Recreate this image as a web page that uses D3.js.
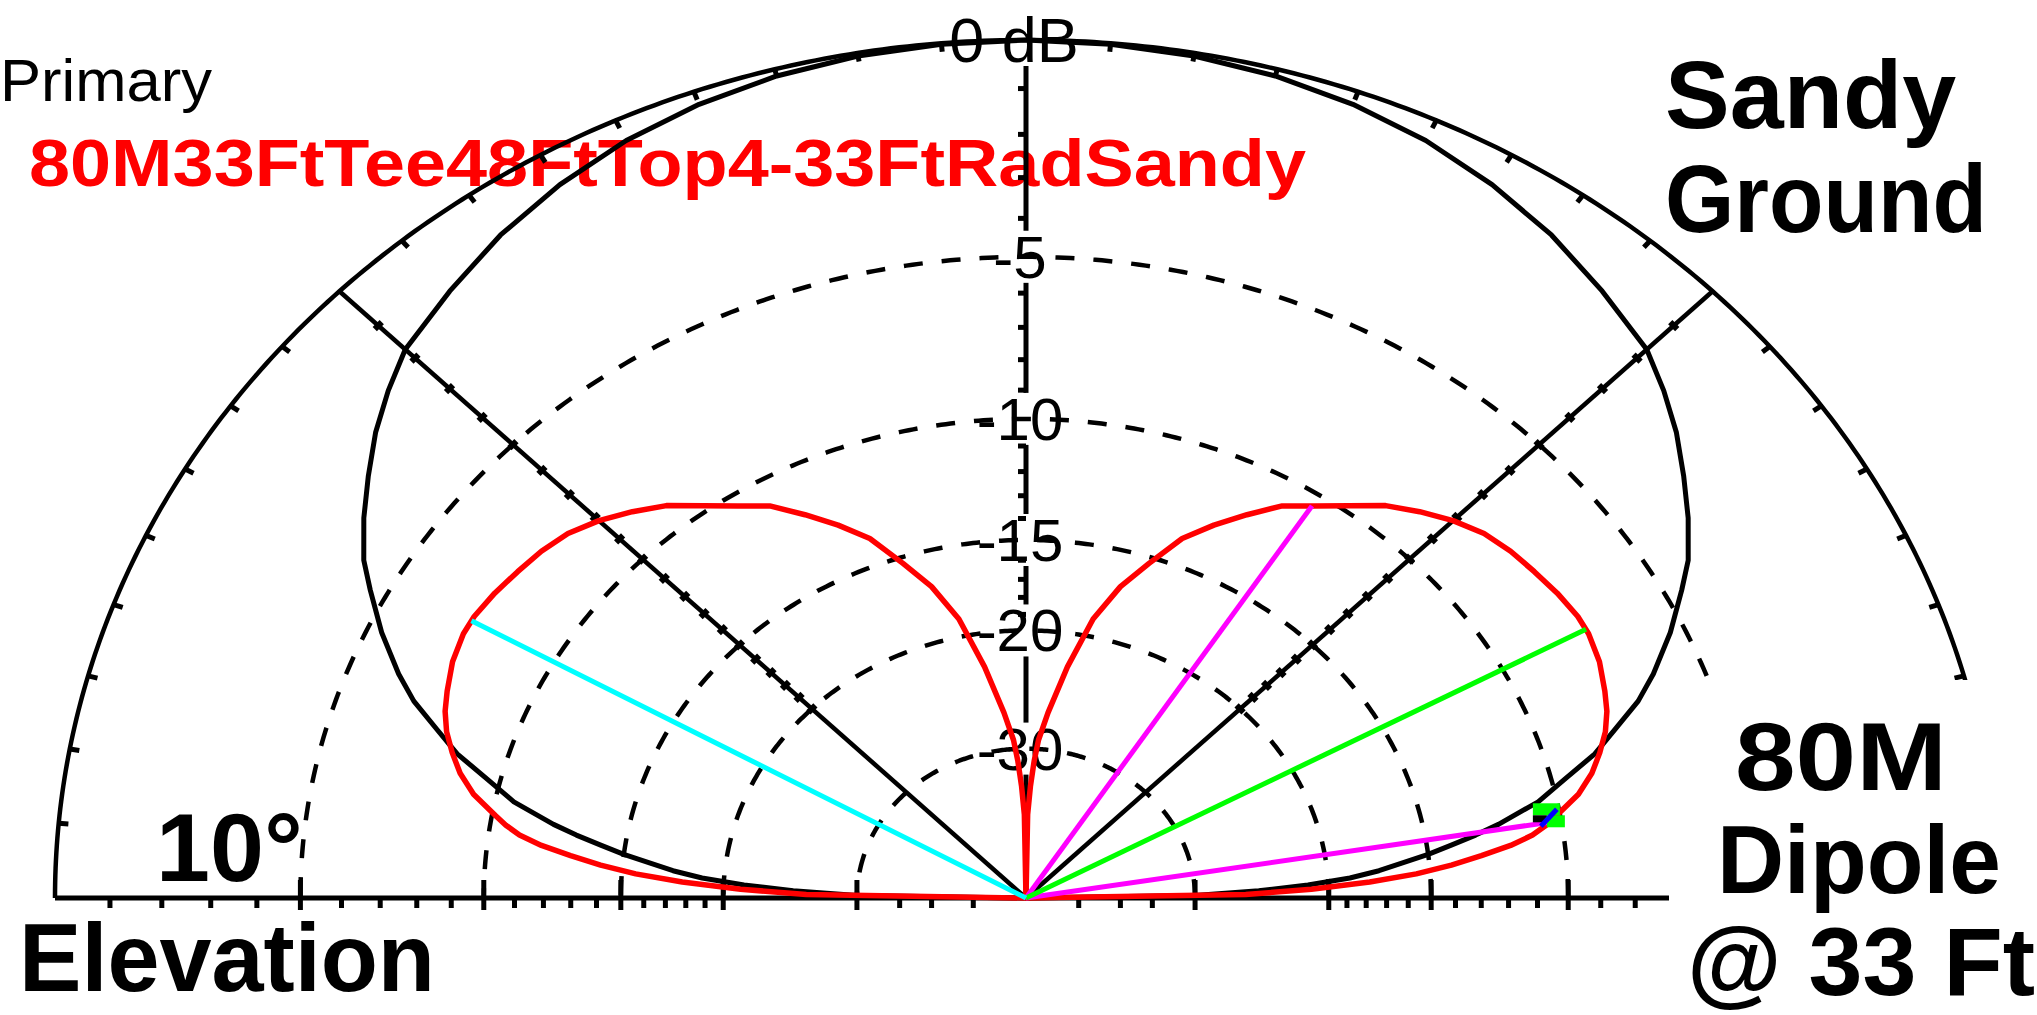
<!DOCTYPE html>
<html><head><meta charset="utf-8">
<script src="https://cdn.jsdelivr.net/npm/d3@7"></script>
<style>html,body{margin:0;padding:0;background:#fff;overflow:hidden}svg{display:block}</style>
</head><body>
<svg id="chart" width="2037" height="1015"></svg>
<script>
// ---------------- DATA ----------------
// Primary trace (red): elevation angle (deg) and gain (dB rel. 0 dB ring); null = deep null
const primaryElev = [0,1,2,3,4,5,6,7,8,9,10,12,14,16,18,20,22,25,28,30,33,36,39,42,45,48,51,54,57,60,63,66,69,72,75,78,81,84,86,87,88,89,90];
const primaryDb   = [null,-25.5,-21.0,-17.8,-15.6,-14.1,-12.9,-11.8,-11.0,-10.5,-10.1,-9.3,-8.75,-8.35,-8.0,-7.75,-7.58,-7.35,-7.23,-7.23,-7.33,-7.47,-7.6,-7.8,-8.15,-8.6,-9.1,-9.8,-10.42,-10.97,-11.85,-12.75,-13.75,-15.3,-16.8,-18.9,-22.3,-26.2,-29.0,-31.5,-35,-40,null];
// Secondary trace (black): 80M dipole @ 33 ft
const secondaryElev = [0,1,2,3,4,5,6,7,8,9,10,12,14,16,18,20,22,25,28,30,33,36,39,42,45,50,55,60,65,70,75,80,85,90];
const secondaryDb   = [null,-30,-24.5,-21.2,-18.8,-17.3,-16.2,-15.0,-14.0,-13.0,-12.1,-10.6,-9.6,-8.5,-7.7,-6.85,-6.2,-5.35,-4.6,-4.1,-3.55,-3.05,-2.55,-2.12,-1.73,-1.37,-1.0,-0.7,-0.45,-0.27,-0.14,-0.06,-0.02,0];
// Grid
const ringLevels  = [-5,-10,-15,-20,-30];
const ringLabels  = ["-5","-10","-15","-20","-30"];
const topLabel    = "0 dB";
const minorDbTicks = [-1,-2,-3,-4,-6,-7,-8,-9,-11,-12,-13,-14,-16,-17,-18,-19,-35,-40,-50];
const majorDbTicks = [-5,-10,-15,-20,-30];
const outerTickAngles = [5,10,15,20,25,30,35,40,50,55,60,65,70,75,80,85,95,100,105,110,115,120,125,130,140,145,150,155,160,165,170,175];
const solidRadials = [45,135];
// Marker lines
const halfPowerAngles = [9.3,57.2];   // magenta
const maxGainAngle = 28.5;            // green
const cursorLineAngle = 150.5;        // cyan
const cursorMarkerAngle = 10;         // cursor marker on primary
// Text
const legendHeader = "Primary";
const legendName = "80M33FtTee48FtTop4-33FtRadSandy";
const noteTopRight = ["Sandy","Ground"];
const noteBottomRight = ["80M","Dipole","@ 33 Ft"];
const noteBottomLeft = ["10°","Elevation"];

// ---------------- LAYOUT ----------------
const cx = 1026, cy = 898, Rx = 971, Ry = 858;
const svg = d3.select("#chart");
// ARRL log scale: radius 0.89 per 2 dB. scaleLog maps radius -> dB
const dbScale = d3.scaleLog().domain([Math.pow(0.89,25),1]).range([-50,0]);
const rOf = db => (db===null ? 0 : dbScale.invert(db));
const xs = d3.scaleLinear().domain([-1,1]).range([cx-Rx, cx+Rx]);
const ys = d3.scaleLinear().domain([0,1]).range([cy, cy-Ry]);
const rad = a => a*Math.PI/180;
const P = (elev, r) => [xs(r*Math.cos(rad(elev))), ys(r*Math.sin(rad(elev)))];

const FONT = "'Liberation Sans', Arial, sans-serif";

// legend text (behind grid)
svg.append("text").attr("x",0).attr("y",101).attr("font-family",FONT).attr("font-size",60)
  .attr("textLength",212).attr("lengthAdjust","spacingAndGlyphs").attr("fill","#000").text(legendHeader);
svg.append("text").attr("x",29).attr("y",186).attr("font-family",FONT).attr("font-weight","bold").attr("font-size",66)
  .attr("textLength",1277).attr("lengthAdjust","spacingAndGlyphs").attr("fill","#ff0000").text(legendName);

const grid = svg.append("g").attr("fill","none").attr("stroke","#000");
const line = d3.line();
const arcPts = (r) => d3.range(0,180.5,0.5).map(a => P(a, r));

// outer 0 dB ellipse
grid.append("path").attr("d", line(arcPts(1))).attr("stroke-width",4.5);
// dashed rings
ringLevels.forEach(l => {
  grid.append("path").attr("d", line(arcPts(rOf(l)))).attr("stroke-width",4.5).attr("stroke-dasharray","19,19");
});
// baseline
grid.append("line").attr("x1",xs(-1)).attr("x2",xs(1)).attr("y1",cy).attr("y2",cy).attr("stroke-width",5);
// solid 45 deg radials
solidRadials.forEach(a => {
  const [x2,y2] = P(a,1);
  grid.append("line").attr("x1",cx).attr("y1",cy).attr("x2",x2).attr("y2",y2).attr("stroke-width",4.5);
});
// vertical axis: solid, broken around the ring labels
const labelYs = [ys(1)].concat(ringLevels.map(l => ys(rOf(l))));
const axisStops = labelYs.concat([cy]);
for (let i=0;i<axisStops.length-1;i++){
  const y1 = axisStops[i] + (i===0 ? 26 : 26), y2 = axisStops[i+1] - (i+1===axisStops.length-1 ? 0 : 26);
  if (y2>y1) grid.append("line").attr("x1",cx).attr("x2",cx).attr("y1",y1).attr("y2",y2).attr("stroke-width",5);
}

// outer ring ticks (inward)
outerTickAngles.forEach(a => {
  const [x1,y1] = P(a,1), [x2,y2] = P(a,0.99);
  grid.append("line").attr("x1",x1).attr("y1",y1).attr("x2",x2).attr("y2",y2).attr("stroke-width",5);
});
// dB ticks on baseline (both sides)
[-1,1].forEach(s => {
  minorDbTicks.forEach(d => {
    const x = xs(s*rOf(d));
    grid.append("line").attr("x1",x).attr("x2",x).attr("y1",cy).attr("y2",cy+10).attr("stroke-width",5);
  });
  majorDbTicks.forEach(d => {
    const x = xs(s*rOf(d));
    grid.append("line").attr("x1",x).attr("x2",x).attr("y1",cy-18).attr("y2",cy+12).attr("stroke-width",5);
  });
});
// dB ticks on 45/135 radials and vertical axis
[45,135].forEach(a => {
  minorDbTicks.concat(majorDbTicks).filter(d => d>=-20).forEach(d => {
    const [x,y] = P(a, rOf(d));
    const s = (a===45 ? 1 : -1);
    grid.append("line").attr("x1",x-3.5*s).attr("y1",y-3.5).attr("x2",x+3.5*s).attr("y2",y+3.5).attr("stroke-width",6);
  });
});
minorDbTicks.filter(d => d>=-20).forEach(d => {
  const y = ys(rOf(d));
  grid.append("line").attr("x1",cx-8).attr("x2",cx).attr("y1",y).attr("y2",y).attr("stroke-width",5);
});

// labels on vertical axis
const labG = svg.append("g").attr("font-family",FONT).attr("fill","#000").attr("text-anchor","middle");
labG.append("text").attr("x",1014).attr("y",62).attr("font-size",63).text(topLabel);
ringLevels.forEach((l,i) => {
  labG.append("text").attr("x",1020).attr("y",ys(rOf(l))+21).attr("font-size",60).text(ringLabels[i]);
});

// traces: mirror 0..90 onto 90..180
function fullTrace(elev, db){
  const right = elev.map((e,i) => P(e, rOf(db[i])));
  const left = elev.slice().reverse().map((e,i) => {
    const idx = elev.length-1-i; return P(180-elev[idx], rOf(db[idx]));
  });
  return right.concat(left);
}
svg.append("path").attr("d", line(fullTrace(secondaryElev, secondaryDb)))
  .attr("fill","none").attr("stroke","#000").attr("stroke-width",5).attr("stroke-linejoin","round");
svg.append("path").attr("d", line(fullTrace(primaryElev, primaryDb)))
  .attr("fill","none").attr("stroke","#ff0000").attr("stroke-width",5.5).attr("stroke-linejoin","round");

// primary gain at any angle (linear interpolation in dB of the read values)
function primaryAt(a){
  const e = a>90 ? 180-a : a;
  const i = d3.bisectRight(primaryElev, e)-1;
  const j = Math.min(i+1, primaryElev.length-1);
  const t = (e-primaryElev[i])/((primaryElev[j]-primaryElev[i])||1);
  return primaryDb[i] + t*(primaryDb[j]-primaryDb[i]);
}
const rayG = svg.append("g").attr("stroke-width",5).attr("fill","none");
function ray(a, color){
  const [x2,y2] = P(a, rOf(primaryAt(a)));
  rayG.append("line").attr("x1",cx).attr("y1",cy).attr("x2",x2).attr("y2",y2).attr("stroke",color);
}
halfPowerAngles.forEach(a => ray(a,"#ff00ff"));
ray(maxGainAngle,"#00ff00");
ray(cursorLineAngle,"#00ffff");

// cursor marker
const [mx,my] = P(cursorMarkerAngle, rOf(primaryAt(cursorMarkerAngle)));
const mk = svg.append("g").attr("transform",`translate(${mx},${my})`);
mk.append("rect").attr("x",-24).attr("y",-12).attr("width",27).attr("height",12).attr("fill","#00ff00");
mk.append("rect").attr("x",-10).attr("y",0).attr("width",18).attr("height",12).attr("fill","#00ff00");
mk.append("rect").attr("x",-24).attr("y",0).attr("width",14).attr("height",7).attr("fill","#000");
mk.append("line").attr("x1",-16).attr("y1",11).attr("x2",0).attr("y2",-6).attr("stroke","#0000ff").attr("stroke-width",5);

// white box behind bottom-right note
svg.append("rect").attr("x",1669).attr("y",680).attr("width",400).attr("height",400).attr("fill","#fff");

// annotations
const noteG = svg.append("g").attr("font-family",FONT).attr("font-weight","bold").attr("fill","#000").attr("font-size",97)
  .attr("lengthAdjust","spacingAndGlyphs");
noteG.append("text").attr("x",1665).attr("y",128).text(noteTopRight[0]);
noteG.append("text").attr("x",1665).attr("y",232).attr("textLength",322).attr("lengthAdjust","spacingAndGlyphs").text(noteTopRight[1]);
noteG.append("text").attr("x",1841).attr("y",790).attr("text-anchor","middle").attr("textLength",212).attr("lengthAdjust","spacingAndGlyphs").text(noteBottomRight[0]);
noteG.append("text").attr("x",1859).attr("y",893).attr("text-anchor","middle").attr("textLength",284).attr("lengthAdjust","spacingAndGlyphs").text(noteBottomRight[1]);
noteG.append("text").attr("x",1861).attr("y",995).attr("text-anchor","middle").text(noteBottomRight[2]);
noteG.append("text").attr("x",156).attr("y",881).text(noteBottomLeft[0]);
noteG.append("text").attr("x",19).attr("y",991).attr("textLength",416).attr("lengthAdjust","spacingAndGlyphs").text(noteBottomLeft[1]);
</script>
</body></html>
